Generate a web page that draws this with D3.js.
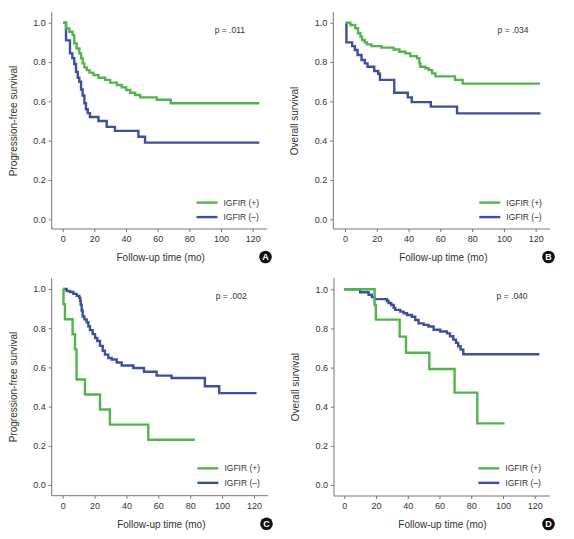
<!DOCTYPE html>
<html><head><meta charset="utf-8">
<script src="https://cdn.jsdelivr.net/npm/d3@7"></script>
<style>body{margin:0;background:#fff}svg{display:block}text{font-family:"Liberation Sans",Arial,sans-serif;fill:#333}</style>
</head><body>
<svg id="chart" width="574" height="539"></svg>
<script>
// ---- data (months, survival) ----
const xTicks = [0, 20, 40, 60, 80, 100, 120];
const yTicks = [0, 0.2, 0.4, 0.6, 0.8, 1.0];
const legendLabels = ["IGFIR (+)", "IGFIR (\u2013)"];
const pValues = ["p = .011", "p = .034", "p = .002", "p = .040"];
const yTitles = ["Progression-free survival", "Overall survival", "Progression-free survival", "Overall survival"];
const panelLetters = ["A", "B", "C", "D"];

const aPosT = [0.5, 2.1, 4.2, 6.3, 7.3, 8.8, 10.5, 11.6, 12.6, 13.7, 15.2, 16.9, 19.4, 22.6, 26.8, 30, 34.2, 37.3, 40.1, 42.6, 45.8, 48.9, 59.4, 68.2, 124.2];
const aPosS = [1.0, 0.971, 0.954, 0.937, 0.895, 0.869, 0.844, 0.819, 0.793, 0.773, 0.759, 0.746, 0.734, 0.720, 0.709, 0.695, 0.683, 0.671, 0.658, 0.644, 0.632, 0.620, 0.608, 0.590, 0.590];
const aNegT = [0.5, 2.1, 4.6, 6.1, 7.3, 8.4, 9.5, 10.5, 11.6, 12.6, 13.7, 14.7, 15.8, 17.2, 22.6, 27.8, 33, 47.8, 52, 124.2];
const aNegS = [1.0, 0.91, 0.844, 0.82, 0.79, 0.75, 0.72, 0.70, 0.66, 0.63, 0.59, 0.56, 0.54, 0.52, 0.50, 0.47, 0.45, 0.42, 0.39, 0.39];

const bPosT = [0.5, 3.4, 6.5, 8.2, 9.7, 10.7, 12.4, 13.8, 16.6, 22.9, 30.6, 34.2, 38, 41.1, 45.3, 46.8, 47.4, 50.6, 52.7, 54.8, 56.9, 69.2, 74, 122.7];
const bPosS = [1.0, 0.988, 0.972, 0.946, 0.929, 0.912, 0.900, 0.890, 0.881, 0.873, 0.864, 0.852, 0.844, 0.830, 0.819, 0.793, 0.776, 0.768, 0.759, 0.742, 0.727, 0.709, 0.690, 0.690];
const bNegT = [0.5, 0.9, 4.5, 6.2, 7.9, 10.4, 12.5, 14.2, 18.4, 20.9, 22, 31, 39.5, 42, 54, 70.5, 123];
const bNegS = [1.0, 0.90, 0.881, 0.861, 0.836, 0.81, 0.793, 0.776, 0.754, 0.74, 0.709, 0.644, 0.62, 0.596, 0.573, 0.539, 0.539];

const cPosT = [0.3, 0.5, 1.4, 6.2, 7.7, 8.7, 14, 23.4, 29.6, 53.7, 83];
const cPosS = [1.0, 0.923, 0.846, 0.769, 0.692, 0.538, 0.462, 0.385, 0.308, 0.231, 0.231];
const cNegT = [0.3, 2.5, 4.6, 6.7, 8.8, 10.4, 11, 11.3, 11.9, 12.5, 13.6, 15, 16.1, 17.1, 18.8, 20.3, 21.7, 23.4, 25.1, 26.5, 28.6, 30.7, 33.9, 37, 44.3, 51, 58.9, 68.3, 89.2, 98.2, 121.6];
const cNegS = [1.0, 0.99, 0.985, 0.975, 0.965, 0.955, 0.94, 0.92, 0.89, 0.86, 0.845, 0.83, 0.81, 0.79, 0.77, 0.75, 0.735, 0.71, 0.685, 0.665, 0.648, 0.64, 0.625, 0.61, 0.597, 0.578, 0.558, 0.546, 0.504, 0.469, 0.469];

const dPosT = [0, 19.1, 19.9, 34.9, 38.9, 53.6, 69.5, 83.8, 101];
const dPosS = [1.0, 0.92, 0.845, 0.758, 0.676, 0.593, 0.472, 0.315, 0.315];
const dNegT = [0, 10, 15.3, 17.4, 19.1, 26.9, 27.9, 29.6, 31.1, 32.1, 35.3, 37.4, 39.5, 42.6, 44.7, 46.8, 50, 53.1, 56.3, 60.5, 64.7, 66.6, 68.7, 70.4, 71.8, 73.3, 75, 122.9];
const dNegS = [1.0, 0.985, 0.972, 0.96, 0.95, 0.94, 0.93, 0.92, 0.905, 0.895, 0.886, 0.878, 0.869, 0.86, 0.843, 0.826, 0.818, 0.81, 0.793, 0.784, 0.775, 0.76, 0.743, 0.726, 0.709, 0.692, 0.668, 0.668];

const GREEN = "#52b54b", BLUE = "#3d4f9e";

const panels = [
  {pos:[aPosT,aPosS], neg:[aNegT,aNegS], ax:51.7, x0:62.7, x1:252.7, y1:22.7, y0:219.3, axY:229, top:12, right:267},
  {pos:[bPosT,bPosS], neg:[bNegT,bNegS], ax:333.3, x0:345, x1:535.7, y1:22.7, y0:219.3, axY:229, top:12, right:550},
  {pos:[cPosT,cPosS], neg:[cNegT,cNegS], ax:51.7, x0:62.7, x1:254, y1:289, y0:485, axY:495.7, top:278, right:268},
  {pos:[dPosT,dPosS], neg:[dNegT,dNegS], ax:334, x0:344.3, x1:534.7, y1:289.3, y0:485, axY:496, top:278, right:550}
];

const svg = d3.select("#chart");

panels.forEach((p, i) => {
  const g = svg.append("g");
  const x = d3.scaleLinear().domain([0, 120]).range([p.x0, p.x1]);
  const y = d3.scaleLinear().domain([0, 1]).range([p.y0, p.y1]);

  // axes
  const yAx = g.append("g").attr("transform", `translate(${p.ax},0)`)
    .call(d3.axisLeft(y).tickValues(yTicks).tickFormat(d3.format(".1f")).tickSize(3).tickPadding(3));
  const xAx = g.append("g").attr("transform", `translate(0,${p.axY})`)
    .call(d3.axisBottom(x).tickValues(xTicks).tickSize(3).tickPadding(4));
  [yAx, xAx].forEach(a => {
    a.select(".domain").remove();
    a.selectAll("line").attr("stroke", "#777");
    a.selectAll("text").style("font-size", "9px").attr("fill", "#333");
  });
  g.append("line").attr("x1", p.ax).attr("x2", p.ax).attr("y1", p.top).attr("y2", p.axY).attr("stroke", "#777");
  g.append("line").attr("x1", p.ax).attr("x2", p.right).attr("y1", p.axY).attr("y2", p.axY).attr("stroke", "#777");

  // titles
  g.append("text").attr("transform", `translate(${p.ax - 35},${(p.y0 + p.y1) / 2}) rotate(-90)`)
    .attr("text-anchor", "middle").style("font-size", "10px").text(yTitles[i]);
  g.append("text").attr("x", (p.x0 + p.x1) / 2 + 3).attr("y", p.axY + 32)
    .attr("text-anchor", "middle").style("font-size", "10px").text("Follow-up time (mo)");

  // curves
  const line = d3.line().x(d => x(d[0])).y(d => y(d[1])).curve(d3.curveStepAfter);
  const mk = arr => arr[0].map((t, k) => [t, arr[1][k]]);
  g.append("path").attr("d", line(mk(p.neg))).attr("fill", "none").attr("stroke", BLUE).attr("stroke-width", 2.4);
  g.append("path").attr("d", line(mk(p.pos))).attr("fill", "none").attr("stroke", GREEN).attr("stroke-width", 2.4);

  // p value
  g.append("text").attr("x", x(96)).attr("y", p.y1 + 10).style("font-size", "8.5px").text(pValues[i]);

  // legend
  const lx = x(84.5), ly = y(0.085);
  [GREEN, BLUE].forEach((c, k) => {
    const yy = ly + k * 14.5;
    g.append("line").attr("x1", lx).attr("x2", lx + 21).attr("y1", yy).attr("y2", yy).attr("stroke", c).attr("stroke-width", 2.4);
    g.append("text").attr("x", lx + 27).attr("y", yy + 3).style("font-size", "8.5px").text(legendLabels[k]);
  });

  // panel letter
  const cx = p.right - 1.5, cy = p.axY + 28;
  g.append("circle").attr("cx", cx).attr("cy", cy).attr("r", 6.3).attr("fill", "#111");
  g.append("text").attr("x", cx).attr("y", cy + 3.2).attr("text-anchor", "middle")
    .style("font-size", "9px").style("font-weight", "bold").style("fill", "#fff").text(panelLetters[i]);
});
</script>
</body></html>
